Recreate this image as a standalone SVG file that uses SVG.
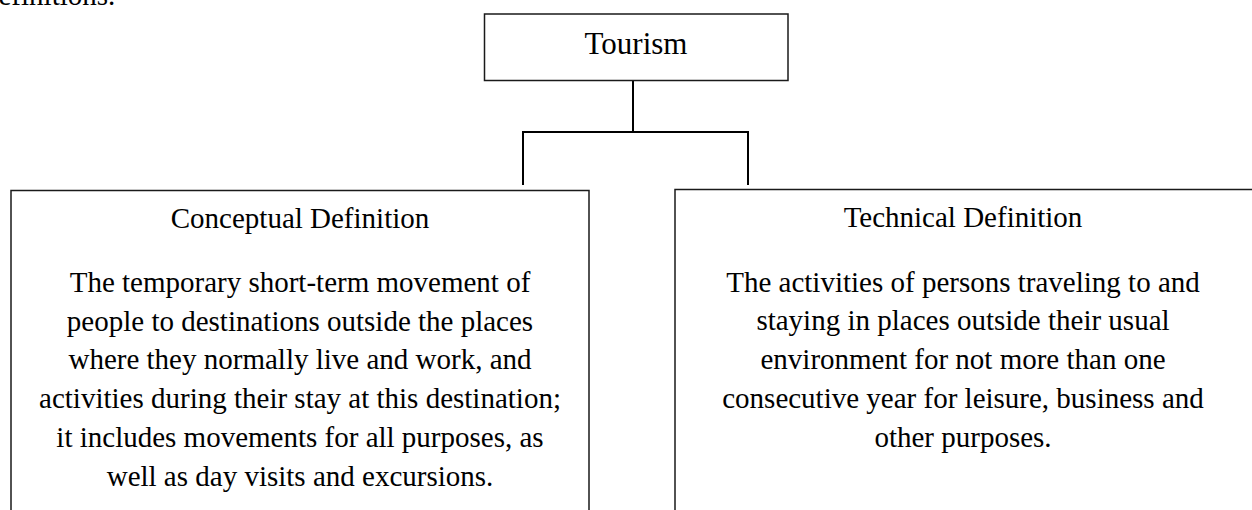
<svg xmlns="http://www.w3.org/2000/svg" width="1252" height="510" viewBox="0 0 1252 510">
<style>
text{font-family:"Liberation Serif","Times New Roman",serif;fill:#000;}
.box{fill:#fff;stroke:#1a1a1a;stroke-width:1.5;}
.con{fill:none;stroke:#000;stroke-width:2;}
.t{font-size:29px;text-anchor:middle;}
</style>
<rect width="1252" height="510" fill="#fff"/>
<text x="-16" y="5" style="font-size:29px">definitions.</text>
<g id="connectors">
<line class="con" x1="633" y1="80" x2="633" y2="132"/>
<polyline class="con" points="523,185 523,132 748,132 748,185"/>
</g>
<g id="tourism">
<rect class="box" x="484.5" y="14" width="303.5" height="66.5"/>
<text x="636" y="54" style="font-size:31px;text-anchor:middle">Tourism</text>
</g>
<g id="conceptual">
<path class="box" d="M11,520 V190.5 H589 V520"/>
<text class="t" x="300" y="228">Conceptual Definition</text>
<text class="t" x="300" y="292">The temporary short-term movement of</text>
<text class="t" x="300" y="331">people to destinations outside the places</text>
<text class="t" x="300" y="369">where they normally live and work, and</text>
<text class="t" x="300" y="408">activities during their stay at this destination;</text>
<text class="t" x="300" y="447">it includes movements for all purposes, as</text>
<text class="t" x="300" y="486">well as day visits and excursions.</text>
</g>
<g id="technical">
<path class="box" d="M675,520 V189.5 H1262"/>
<text class="t" x="963" y="227">Technical Definition</text>
<text class="t" x="963" y="292">The activities of persons traveling to and</text>
<text class="t" x="963" y="330">staying in places outside their usual</text>
<text class="t" x="963" y="369">environment for not more than one</text>
<text class="t" x="963" y="408">consecutive year for leisure, business and</text>
<text class="t" x="963" y="447">other purposes.</text>
</g>
</svg>
